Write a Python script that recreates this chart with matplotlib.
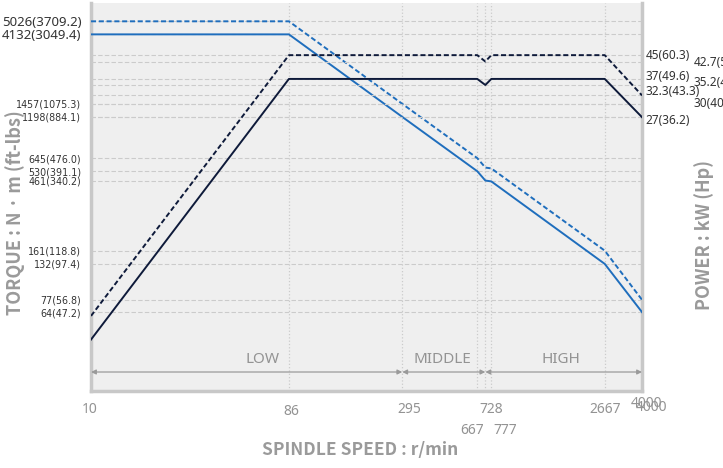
import os
import matplotlib
matplotlib.use('Agg')
import matplotlib.pyplot as plt
from matplotlib import font_manager
from matplotlib.font_manager import FontProperties
from matplotlib.ticker import NullLocator
from matplotlib.transforms import blended_transform_factory

# spindle speed breakpoints (r/min)
speed = [10, 86, 295, 667, 728, 777, 2667, 4000]

# torque curves (N·m)
torque_cont = [4132, 4132, 1198, 530, 461, 455, 132, 64]
torque_peak = [5026, 5026, 1457, 645, 560, 553, 161, 77]

# power curves (kW)
power_cont = [4.33, 37, 37, 37, 35.2, 37, 37, 27]
power_peak = [5.26, 45, 45, 45, 42.7, 45, 45, 32.3]

# left axis labels: N·m with ft-lbs
torque_ticks = [5026, 4132, 1457, 1198, 645, 530, 461, 161, 132, 77, 64]
torque_ftlbs = ['3709.2', '3049.4', '1075.3', '884.1', '476.0', '391.1',
                '340.2', '118.8', '97.4', '56.8', '47.2']

# right side labels: kW with Hp, two columns
power_col1 = [45, 37, 32.3, 27]
power_col1_hp = ['60.3', '49.6', '43.3', '36.2']
power_col2 = [42.7, 35.2, 30]
power_col2_hp = ['57.3', '47.2', '40.2']

speed_grid = [86, 295, 667, 728, 777, 2667]
speed_row1 = [10, 86, 295, 728, 2667]
speed_row2 = [667, 777]

ranges = [('LOW', 10, 295), ('MIDDLE', 295, 728), ('HIGH', 728, 4000)]

BLUE = '#1f6ebd'
NAVY = '#0e1a3a'
GRID = '#cbcbcb'
GRAY_TXT = '#939393'


def narrow_font():
    # pick a condensed face if one is installed
    wanted = ['LiberationSansNarrow-Regular.ttf', 'DejaVuSansCondensed.ttf',
              'RobotoCondensed-Regular.ttf', 'Roboto-Condensed.ttf']
    found = {os.path.basename(f.fname): f.fname for f in font_manager.fontManager.ttflist}
    for w in wanted:
        if w in found:
            return FontProperties(fname=found[w], size=7.7)
    return FontProperties(family='Liberation Sans', size=7.5)


fig = plt.figure(figsize=(7.23, 4.68), dpi=100)
ax = fig.add_axes([0.1259, 0.1645, 0.7621, 0.829])
ax2 = ax.twinx()

ax.set_xscale('log')
ax.set_yscale('log')
ax2.set_yscale('log')
ax.set_xlim(10, 4000)
ax.set_ylim(19.6, 6611)
ax2.set_ylim(2.835, 69.1)

ax.set_facecolor('#efefef')
ax2.patch.set_visible(False)
for a in (ax, ax2):
    for s in a.spines.values():
        s.set_visible(False)
for side in ('left', 'bottom', 'right'):
    ax.spines[side].set_visible(True)
    ax.spines[side].set_color('#c8c8c8')
    ax.spines[side].set_linewidth(2.5)

# grid lines
for x in speed_grid:
    ax.axvline(x, color=GRID, ls=':', lw=0.9, zorder=1)
for t in torque_ticks:
    ax.axhline(t, color=GRID, ls='--', lw=0.8, dashes=(4, 2), zorder=1)
for p in power_col1 + power_col2:
    ax2.axhline(p, color=GRID, ls='--', lw=0.8, dashes=(4, 2), zorder=1)

# curves
ax.plot(speed, torque_peak, color=BLUE, lw=1.4, ls='--', dashes=(2.6, 1.4), zorder=3)
ax.plot(speed, torque_cont, color=BLUE, lw=1.4, zorder=3)
ax2.plot(speed, power_peak, color=NAVY, lw=1.4, ls='--', dashes=(2.6, 1.4), zorder=3)
ax2.plot(speed, power_cont, color=NAVY, lw=1.4, zorder=3)

# left ticks
ax.set_xticks([])
ax.xaxis.set_minor_locator(NullLocator())
ax.set_yticks(torque_ticks)
ax.set_yticklabels([f'{t}({f})' for t, f in zip(torque_ticks, torque_ftlbs)])
ax.yaxis.set_minor_locator(NullLocator())
ax.tick_params(axis='y', length=0, pad=7, labelcolor='#333333')
small = narrow_font()
for i, lab in enumerate(ax.get_yticklabels()):
    if i < 2:
        lab.set_fontsize(9.5)
        lab.set_family('Noto Sans')
    else:
        lab.set_fontproperties(small)
ax2.set_yticks([])
ax2.yaxis.set_minor_locator(NullLocator())

# right labels
offs1 = [0, 2, 2.5, -2.5]
for p, hp, dy in zip(power_col1, power_col1_hp, offs1):
    ax2.annotate(f'{p}({hp})', xy=(1, p), xycoords=('axes fraction', 'data'),
                 xytext=(2.5, dy), textcoords='offset points', va='center',
                 fontsize=8.5, color='#333333', family='Noto Sans', annotation_clip=False)
offs2 = [-1, 2, 1]
for p, hp, dy in zip(power_col2, power_col2_hp, offs2):
    ax2.annotate(f'{p}({hp})', xy=(1, p), xycoords=('axes fraction', 'data'),
                 xytext=(37, dy), textcoords='offset points', va='center',
                 fontsize=8.5, color='#333333', family='Noto Sans', annotation_clip=False)

# speed labels under the axis
tr = blended_transform_factory(ax.transData, fig.transFigure)
row1_dx = {10: -1, 86: 2, 295: 5, 728: 4, 2667: 0}
row2_dx = {667: -4, 777: 10}
for s in speed_row1:
    y = 0.120 if s == 86 else 0.126
    ax.annotate(str(s), xy=(s, y), xycoords=tr, xytext=(row1_dx[s], 0),
                textcoords='offset points', ha='center', va='center',
                fontsize=10, color=GRAY_TXT, family='Noto Sans', annotation_clip=False)
for s in speed_row2:
    ax.annotate(str(s), xy=(s, 0.081), xycoords=tr, xytext=(row2_dx[s], 0),
                textcoords='offset points', ha='center', va='center',
                fontsize=10, color=GRAY_TXT, family='Noto Sans', annotation_clip=False)
# the end speed is printed twice, slightly shifted
for dx, dy in [(3.5, 4), (6.5, 1)]:
    ax.annotate('4000', xy=(4000, 0.126), xycoords=tr, xytext=(dx, dy),
                textcoords='offset points', ha='center', va='center',
                fontsize=10, color=GRAY_TXT, family='Noto Sans', annotation_clip=False)

# speed ranges
trx = blended_transform_factory(ax.transData, ax.transAxes)
label_x = {'LOW': 0.312, 'MIDDLE': 0.638, 'HIGH': 0.853}
for name, a, b in ranges:
    ax.annotate('', xy=(a, 0.049), xytext=(b, 0.049), xycoords=trx, textcoords=trx,
                arrowprops=dict(arrowstyle='<|-|>', color='#9a9a9a', lw=0.9,
                                mutation_scale=7, shrinkA=0, shrinkB=0))
    ax.text(label_x[name], 0.080, name, transform=ax.transAxes, ha='center',
            va='center', fontsize=11, color=GRAY_TXT, family='Noto Sans')

# axis titles
title_kw = dict(ha='center', va='center', fontweight='bold',
                color='#9a9a9a', family=['Noto Sans CJK KR', 'DejaVu Sans'])
fig.text(0.498, 0.038, 'SPINDLE SPEED : r/min', fontsize=12.5, **title_kw)
fig.text(0.021, 0.545, 'TORQUE : N · m (ft-lbs)', rotation=90, fontsize=13, **title_kw)
fig.text(0.974, 0.498, 'POWER : kW (Hp)', rotation=90, fontsize=13, **title_kw)

fig.savefig('out.png', dpi=100)
